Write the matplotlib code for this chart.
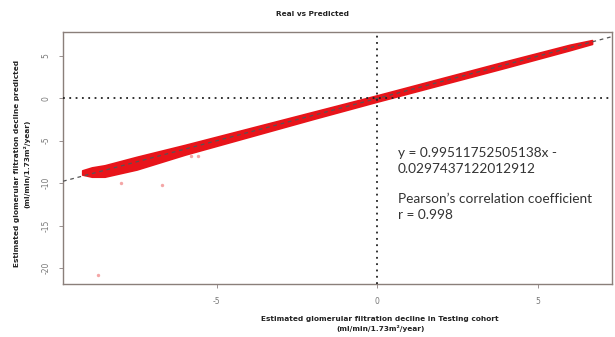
import matplotlib.pyplot as plt
import numpy as np

# regression fit shown on the chart
slope = 0.99511752505138
intercept = -0.0297437122012912

# outline of the dense red point cloud
cloud_x = [-9.2, -8.9, -8.5, -7.5, -6.0, -4.0, -2.0, 0.0, 2.0, 4.0, 6.0, 6.7]
cloud_lo = [-9.0, -9.25, -9.25, -8.4, -6.65, -4.55, -2.45, -0.4, 1.6, 3.6, 5.65, 6.4]
cloud_hi = [-8.5, -8.15, -7.9, -6.9, -5.5, -3.55, -1.6, 0.35, 2.35, 4.35, 6.3, 6.85]

# isolated points away from the cloud
out_x = [-8.7, -8.0, -6.7, -5.6, -5.8]
out_y = [-20.8, -10.0, -10.2, -6.8, -6.8]

xticks = [-5, 0, 5]
yticks = [5, 0, -5, -10, -15, -20]

fig = plt.figure(figsize=(6.15, 3.37), dpi=100)
ax = fig.add_axes([0.1024, 0.157, 0.8926, 0.748])

ax.set_xlim(-9.8, 7.32)
ax.set_ylim(-21.9, 7.8)

red = "#e8141a"
ax.fill_between(cloud_x, cloud_lo, cloud_hi, color=red, lw=1.2, edgecolor=red, zorder=3)
ax.scatter(out_x, out_y, s=6, color="#f08080", alpha=0.7, lw=0, zorder=3)

xs = np.array(ax.get_xlim())
ax.plot(xs, slope * xs + intercept, ls=(0, (3, 3)), color="#555555", lw=0.9, zorder=4)
ax.axvline(0, ls=(0, (1, 2.5)), color="#222222", lw=1.3, zorder=5)
ax.axhline(0, ls=(0, (1, 2.5)), color="#222222", lw=1.3, zorder=5)

ax.set_xticks(xticks)
ax.set_yticks(yticks)
ax.set_xticklabels([str(t) for t in xticks], fontsize=5.5, color="#777777")
ax.set_yticklabels([str(t) for t in yticks], fontsize=5.5, color="#777777",
                   rotation=90, va="center")
ax.tick_params(length=3, width=0.6, color="#8a8080", pad=6)
for s in ax.spines.values():
    s.set_color("#8a7f7a")
    s.set_linewidth(1.0)

txt = dict(family="Lato", fontsize=9.8, color="#333333")
ax.text(0.65, -7.4, "y = 0.99511752505138x -\n0.0297437122012912",
        va="center", linespacing=1.35, **txt)
ax.text(0.65, -12.8, "Pearson’s correlation coefficient\nr = 0.998",
        va="center", linespacing=1.35, **txt)

lab = dict(fontsize=5.3, fontweight="bold", color="#222222")
fig.text(0.508, 0.958, "Real vs Predicted", ha="center", va="center", **lab)
fig.text(0.618, 0.04, "Estimated glomerular filtration decline in Testing cohort\n(ml/min/1.73m²/year)",
         ha="center", va="center", linespacing=1.5, **lab)
fig.text(0.036, 0.515, "Estimated glomerular filtration decline predicted\n(ml/min/1.73m²/year)",
         ha="center", va="center", rotation=90, linespacing=1.7, **lab)

fig.savefig("out.png", dpi=100)
